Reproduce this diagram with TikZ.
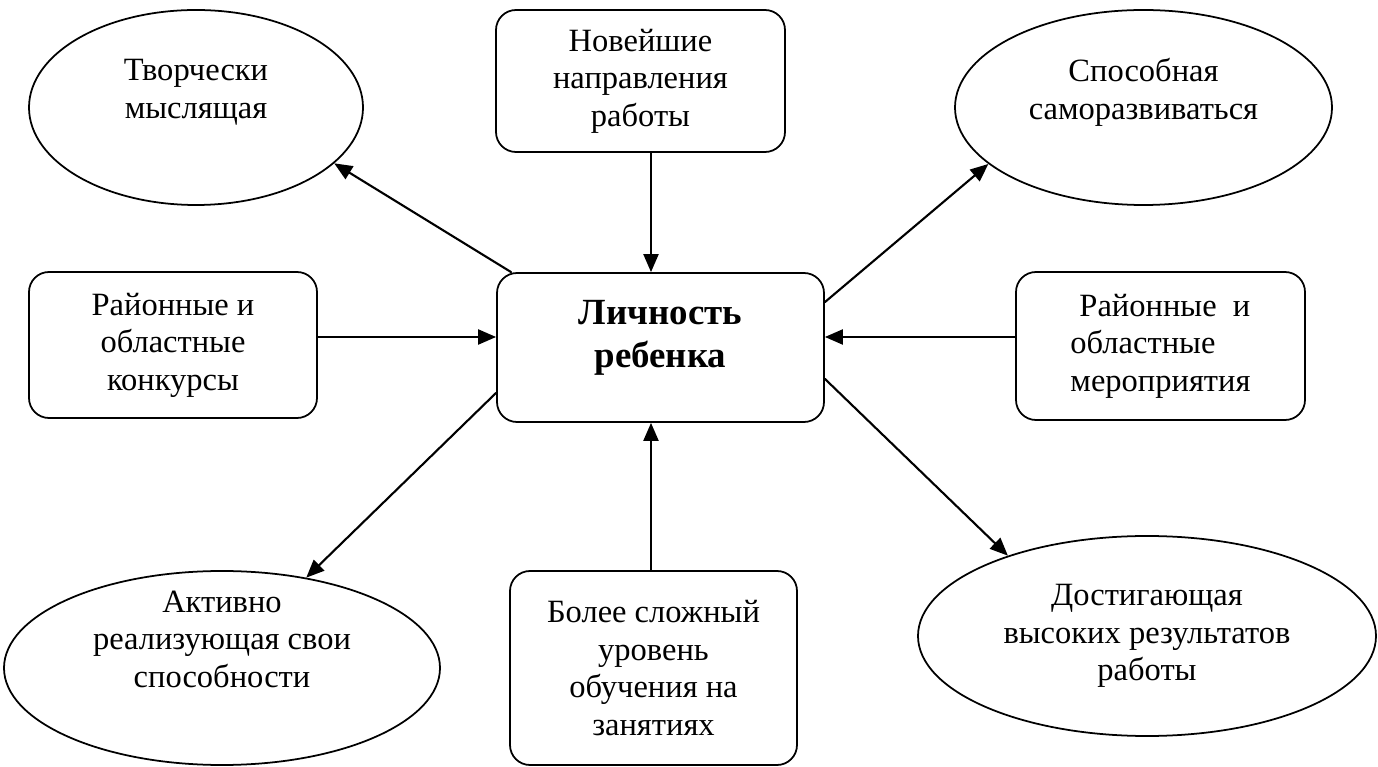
\documentclass[tikz,border=0pt]{standalone}
\usepackage{fontspec}
\setmainfont{Liberation Serif}
\usetikzlibrary{arrows.meta,shapes.geometric,calc}
\begin{document}
\begin{tikzpicture}[line cap=round,line join=round,>={Triangle[length=.36cm,width=.3cm]},font=\fontsize{18.5}{21.3}\selectfont,
box/.style={draw,line width=1pt,rounded corners=.4cm,align=center,inner sep=0pt},
oval/.style={draw,ellipse,line width=1pt,align=center,inner sep=0pt},
arr/.style={->,line width=1.2pt}]
\useasboundingbox (0,0) rectangle (27.56,-15.34);
\node[oval,minimum width=6.68cm,minimum height=3.9cm] (tvor) at (3.92,-2.15) {Творчески\\мыслящая\\\mbox{}};
\node[box,minimum width=5.78cm,minimum height=2.84cm] (nov) at (12.81,-1.62) {Новейшие\\направления\\работы};
\node[oval,minimum width=7.54cm,minimum height=3.9cm] (sposob) at (22.87,-2.15) {Способная\\саморазвиваться\\\mbox{}};
\node[box,minimum width=5.76cm,minimum height=2.92cm] (konk) at (3.46,-6.9) {Районные и\\областные\\конкурсы};
\node[box,minimum width=6.54cm,minimum height=2.98cm,font=\fontsize{21}{24.5}\selectfont\bfseries] (lich) at (13.21,-6.95) {Личность\\ребенка\\[-.3cm]\mbox{}};
\node[box,align=left,minimum width=5.78cm,minimum height=2.96cm] (merop) at (23.21,-6.92) {\hspace*{.18cm}Районные\ \ и\\областные\\мероприятия};
\node[oval,minimum width=8.72cm,minimum height=3.88cm] (aktiv) at (4.44,-13.36) {};
\node[align=center] (aktivtxt) at ($(aktiv)+(0,.58)$) {Активно\\реализующая свои\\способности};
\node[box,minimum width=5.74cm,minimum height=3.88cm] (slozh) at (13.07,-13.36) {Более сложный\\уровень\\обучения на\\занятиях};
\node[oval,minimum width=9.16cm,minimum height=4cm] (dost) at (22.94,-12.72) {Достигающая\\высоких результатов\\работы};
\coordinate (vx) at (13.02,0);
\coordinate (hy) at (0,-6.74);
\draw[arr] ($(lich.north west)+(.3,0)$) -- (tvor.-22.5);
\draw[arr] (nov.south -| vx) -- (lich.north -| vx);
\draw[arr] ($(lich.north east)+(0,-.6)$) -- (sposob.200);
\draw[arr] (konk.east |- hy) -- (lich.west |- hy);
\draw[arr] (merop.west |- hy) -- (lich.east |- hy);
\draw[arr] ($(lich.south west)+(0,.6)$) -- (aktiv.47);
\draw[arr] (slozh.north -| vx) -- (lich.south -| vx);
\draw[arr] ($(lich.south east)+(0,.88)$) -- (dost.150);
\end{tikzpicture}
\end{document}
